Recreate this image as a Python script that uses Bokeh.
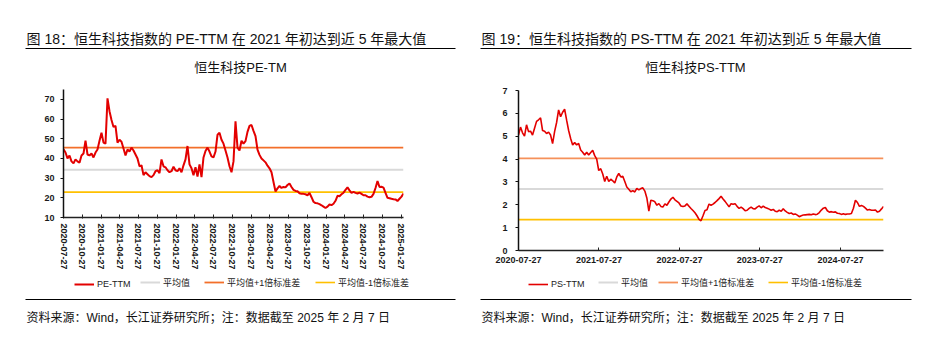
import math
import pandas as pd
from bokeh.plotting import figure
from bokeh.layouts import row, column
from bokeh.models import (Range1d, FixedTicker, CustomJSTickFormatter, Label,
                          BoxAnnotation, Legend, LegendItem)
from bokeh.core.properties import value
from bokeh.embed import file_html
from bokeh.resources import INLINE

# ---------------- data ----------------
START = "2020-07-27"
END = "2025-02-07"

pe_values = [
    44.7, 43.0, 40.0, 41.5, 38.5, 37.5, 39.5, 38.5, 37.8, 41.5,
    42.5, 49.0, 42.0, 41.5, 42.5, 40.5, 43.0, 44.5, 49.0, 53.0,
    48.0, 47.5, 70.5, 64.0, 59.5, 56.0, 56.5, 48.0, 49.5, 48.5,
    45.0, 41.5, 44.5, 43.5, 45.5, 44.0, 42.0, 40.0, 36.0, 36.5,
    31.5, 33.0, 32.0, 31.0, 30.5, 31.5, 33.5, 34.0, 32.5, 39.5,
    36.0, 35.5, 34.0, 33.0, 33.5, 35.8, 34.0, 33.5, 35.0, 33.0,
    36.5, 39.5, 46.3, 37.0, 35.0, 31.5, 35.5, 30.8, 37.0, 30.5,
    40.5, 43.8, 45.5, 43.5, 41.0, 40.5, 43.5, 52.0, 53.0, 49.5,
    47.5, 44.0, 40.5, 36.0, 33.0, 38.5, 58.8, 45.5, 44.0, 49.0,
    47.5, 48.8, 53.5, 56.5, 57.0, 54.0, 51.3, 44.5, 41.8, 40.0,
    39.0, 38.0, 36.3, 35.0, 33.0, 28.0, 23.2, 24.8, 26.0, 25.0,
    25.5, 25.3, 26.5, 27.3, 25.5, 24.0, 23.5, 23.3, 22.3, 22.0,
    22.0, 21.8, 21.3, 22.5, 20.3, 18.0, 17.3, 17.2, 16.8, 16.2,
    15.5, 14.8, 15.5, 16.6, 16.3, 17.0, 18.5, 21.0, 20.8, 21.8,
    22.6, 24.0, 25.3, 23.8, 22.5, 23.0, 22.5, 22.2, 22.6, 22.0,
    21.3, 21.3, 20.6, 20.3, 20.5, 22.0, 25.0, 28.5, 25.5, 25.6,
    25.2, 22.5, 20.0, 19.8, 19.5, 19.3, 19.2, 18.4, 19.5, 20.6,
    22.2,
]

ps_values = [
    5.05, 5.40, 5.15, 5.00, 5.50, 5.20, 5.22, 5.05, 5.35, 5.65,
    5.72, 5.80, 5.25, 5.22, 5.12, 5.18, 5.05, 4.68, 5.20, 5.60,
    6.15, 5.85, 6.05, 6.18, 5.70, 5.25, 4.90, 4.62, 4.72, 4.62,
    4.68, 4.40, 4.30, 4.18, 4.30, 4.18, 4.29, 4.38, 4.15, 4.00,
    3.50, 3.58, 3.35, 3.02, 3.25, 3.02, 3.12, 3.05, 2.95, 3.22,
    3.37, 3.22, 3.25, 3.02, 2.78, 2.68, 2.57, 2.62, 2.56, 2.72,
    2.65, 2.71, 2.74, 2.60, 2.30, 1.72, 2.20, 2.18, 2.13, 1.98,
    2.05, 1.93, 1.90, 2.04, 1.98, 2.12, 2.25, 2.33, 2.22, 2.15,
    2.08, 1.95, 1.92, 1.95, 2.04, 1.94, 1.84, 1.75, 1.65, 1.52,
    1.36, 1.30, 1.52, 1.75, 1.78, 2.03, 1.98, 2.03, 2.10, 2.18,
    2.27, 2.37, 2.25, 2.15, 2.03, 1.91, 2.05, 2.02, 2.05, 1.93,
    1.84, 1.90, 1.83, 1.74, 1.76, 1.84, 1.90, 1.83, 1.82, 1.90,
    1.95, 1.87, 1.94, 1.88, 1.85, 1.81, 1.76, 1.80, 1.72, 1.70,
    1.76, 1.72, 1.83, 1.73, 1.67, 1.62, 1.64, 1.58, 1.60, 1.55,
    1.48, 1.52, 1.55, 1.56, 1.57, 1.58, 1.56, 1.60, 1.57, 1.59,
    1.66, 1.77, 1.85, 1.88, 1.74, 1.68, 1.70, 1.67, 1.69, 1.63,
    1.62, 1.58, 1.61, 1.58, 1.60, 1.60, 1.62, 1.85, 2.20, 2.10,
    1.93, 1.97, 1.93, 1.85, 1.77, 1.79, 1.76, 1.76, 1.77, 1.68,
    1.72, 1.82, 1.93,
]

pe_mean, pe_std = 34.2, 11.3
ps_mean, ps_std = 2.69, 1.34

pe_tick_labels = [
    "2020-07-27", "2020-10-27", "2021-01-27", "2021-04-27", "2021-07-27",
    "2021-10-27", "2022-01-27", "2022-04-27", "2022-07-27", "2022-10-27",
    "2023-01-27", "2023-04-27", "2023-07-27", "2023-10-27", "2024-01-27",
    "2024-04-27", "2024-07-27", "2024-10-27", "2025-01-27",
]
ps_tick_labels = ["2020-07-27", "2021-07-27", "2022-07-27", "2023-07-27", "2024-07-27"]
pe_yticks = [10, 20, 30, 40, 50, 60, 70]
ps_yticks = [0, 1, 2, 3, 4, 5, 6, 7]
pe_yrange = (10, 75)
ps_yrange = (0, 7)

pe_header = "图 18：恒生科技指数的 PE-TTM 在 2021 年初达到近 5 年最大值"
ps_header = "图 19：恒生科技指数的 PS-TTM 在 2021 年初达到近 5 年最大值"
pe_title = "恒生科技PE-TM"
ps_title = "恒生科技PS-TTM"
pe_series_name = "PE-TTM"
ps_series_name = "PS-TTM"
ref_names = ["平均值", "平均值+1倍标准差", "平均值-1倍标准差"]
source_note = "资料来源：Wind，长江证券研究所；注：数据截至 2025 年 2 月 7 日"

# ---------------- styling / layout constants ----------------
CJK = "Liberation Sans, Noto Sans CJK SC"
RED = "#E30000"
GREY = "#D9D9D9"
YELLOW = "#FFC000"
TOP_H = 80          # header strip height
CHART_H = 192       # chart strip height (page y 80..272)
BOT_H = 80          # footer strip height (page y 272..352)


def ms(s):
    return pd.Timestamp(s).timestamp() * 1000.0


def strip(W, H):
    p = figure(width=W, height=H, output_backend="svg", toolbar_location=None,
               x_range=Range1d(0, 1), y_range=Range1d(0, 1),
               x_axis_location=None, y_axis_location=None,
               min_border=0, min_border_left=0, min_border_right=0,
               min_border_top=0, min_border_bottom=0)
    p.frame_align = False
    p.title.visible = False
    p.outline_line_color = None
    p.xgrid.visible = False
    p.ygrid.visible = False
    p.border_fill_color = "white"
    p.background_fill_color = "white"
    return p


def strip_text(p, H, ox, oy, cx, cy, t, size, align="left"):
    p.add_layout(Label(x=cx - ox, y=H - (cy - oy), x_units="screen", y_units="screen",
                       text=t, text_font=CJK, text_font_size=size,
                       text_color="#111111", text_align=align,
                       text_baseline="middle"))


def strip_rule(p, H, ox, oy, x0, x1, cy):
    yy = H - (cy - oy)
    p.add_layout(BoxAnnotation(left=x0 - ox, right=x1 - ox,
                               top=yy + 0.6, bottom=yy - 0.6,
                               left_units="screen", right_units="screen",
                               top_units="screen", bottom_units="screen",
                               fill_color="#000000", fill_alpha=1.0,
                               line_color=None))


def make_panel(values, mean, std, tick_labels, yticks, yrange, header, title,
               series_name, W, ox, FLp, FRp, FTp, FBp, orange, rotate,
               leg_x, rule_l, rule_r, title_cx, series_width):
    # ---- header strip (page y 0..80)
    top = strip(W, TOP_H)
    strip_text(top, TOP_H, ox, 0, rule_l + 1, 38, header, "14px")
    strip_rule(top, TOP_H, ox, 0, rule_l, rule_r, 48)
    strip_text(top, TOP_H, ox, 0, title_cx, 67, title, "13px", align="center")

    # ---- chart (page y 80..272)
    oy = TOP_H
    fl = FLp - ox
    fr = FRp - ox
    p = figure(width=W, height=CHART_H, output_backend="svg", toolbar_location=None,
               x_range=Range1d(ms(START), ms(END)),
               y_range=Range1d(*yrange),
               min_border_left=fl, min_border_right=W - fr,
               min_border_top=FTp - oy, min_border_bottom=oy + CHART_H - FBp,
               x_axis_type="datetime")
    p.frame_align = False
    p.title.visible = False
    p.outline_line_color = None
    p.xgrid.visible = False
    p.ygrid.visible = False
    p.background_fill_color = "white"
    p.border_fill_color = "white"

    dates = pd.date_range(START, END, periods=len(values))
    x0, x1 = dates[0], dates[-1]

    up_style = dict(line_color=orange, line_width=1.8)
    mean_style = dict(line_color=GREY, line_width=2)
    low_style = dict(line_color=YELLOW, line_width=1.6)
    s_style = dict(line_color=RED, line_width=series_width)

    p.line([x0, x1], [mean + std, mean + std], **up_style)
    p.line([x0, x1], [mean, mean], **mean_style)
    p.line([x0, x1], [mean - std, mean - std], **low_style)
    p.line(dates, values, **s_style)

    p.xaxis.ticker = FixedTicker(ticks=[ms(s) for s in tick_labels])
    p.xaxis.formatter = CustomJSTickFormatter(
        code="return new Date(tick).toISOString().slice(0, 10);")
    p.xaxis.minor_tick_line_color = None
    p.xaxis.axis_line_color = "#222222"
    p.xaxis.axis_line_width = 1.5
    p.xaxis.major_tick_line_color = "#222222"
    p.xaxis.major_label_text_font = "Liberation Sans"
    p.xaxis.major_label_text_font_size = "9px"
    p.xaxis.major_label_text_font_style = "bold"
    p.xaxis.major_label_text_color = "#1a1a1a"
    if rotate:
        p.xaxis.major_label_orientation = -math.pi / 2
        p.xaxis.major_tick_in = 3
        p.xaxis.major_tick_out = 1
        p.xaxis.major_label_standoff = 5
    else:
        p.xaxis.major_label_orientation = "horizontal"
        p.xaxis.major_tick_in = 3
        p.xaxis.major_tick_out = 0
        p.xaxis.major_label_standoff = 6

    p.yaxis.ticker = FixedTicker(ticks=yticks)
    p.yaxis.minor_tick_line_color = None
    p.yaxis.axis_line_color = "#111111"
    p.yaxis.axis_line_width = 1.5
    p.yaxis.major_tick_line_color = "#111111"
    p.yaxis.major_tick_in = 0
    p.yaxis.major_tick_out = 3
    p.yaxis.major_label_standoff = 6 if rotate else 8
    p.yaxis.major_label_text_font = "Liberation Sans"
    p.yaxis.major_label_text_font_size = "9px"
    p.yaxis.major_label_text_font_style = "bold"
    p.yaxis.major_label_text_color = "#1a1a1a"

    # ---- footer strip (page y 272..352): legend, rule, source note
    oyb = TOP_H + CHART_H
    bot = strip(W, BOT_H)
    # legend-only proxy renderers: their points lie outside the strip's range
    off = [-5.0, -4.0]
    proxies = [bot.line(off, off, **s_style), bot.line(off, off, **mean_style),
               bot.line(off, off, **up_style), bot.line(off, off, **low_style)]
    names = [series_name] + ref_names
    leg_cy = 283
    for nm, rr, lx in zip(names, proxies, leg_x):
        leg = Legend(items=[LegendItem(label=value(nm), renderers=[rr])],
                     location=(lx - ox, BOT_H - (leg_cy - oyb) - 5.5),
                     orientation="horizontal", padding=0, margin=0, spacing=0,
                     glyph_width=20, glyph_height=10, label_height=10,
                     label_standoff=3, label_text_font=CJK,
                     label_text_font_size="9px", label_text_color="#222222",
                     border_line_color=None, background_fill_alpha=0)
        bot.add_layout(leg)
    strip_rule(bot, BOT_H, ox, oyb, rule_l, rule_r, 299)
    strip_text(bot, BOT_H, ox, oyb, rule_l + 1, 317, source_note, "12px")

    return column(top, p, bot)


left = make_panel(pe_values, pe_mean, pe_std, pe_tick_labels, pe_yticks, pe_yrange,
                  pe_header, pe_title, pe_series_name,
                  W=465, ox=0, FLp=63, FRp=403, FTp=89, FBp=219,
                  orange="#F36F2A", rotate=True,
                  leg_x=[74, 140, 204, 315], rule_l=25, rule_r=455,
                  title_cx=240, series_width=2.0)

right = make_panel(ps_values, ps_mean, ps_std, ps_tick_labels, ps_yticks, ps_yrange,
                   ps_header, ps_title, ps_series_name,
                   W=466, ox=465, FLp=518, FRp=883, FTp=90, FBp=250,
                   orange="#F5915A", rotate=False,
                   leg_x=[528, 598, 658, 768], rule_l=480, rule_r=911,
                   title_cx=695, series_width=1.6)

layout = row(left, right)
open("out.html", "w").write(file_html(layout, INLINE))
